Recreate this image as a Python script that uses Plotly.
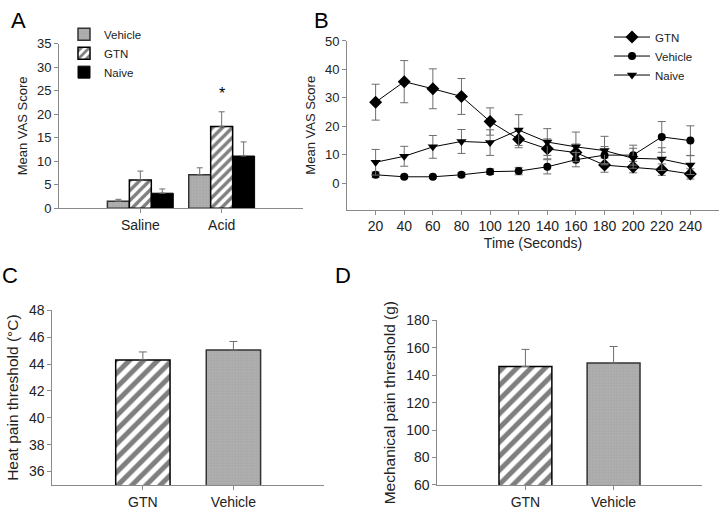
import plotly.graph_objects as go

# ---------------- Data ----------------
# Panel A
a_groups = ["Saline", "Acid"]
a_vehicle = [1.5, 7.1]
a_vehicle_err = [0.4, 1.5]
a_gtn = [6.0, 17.4]
a_gtn_err = [1.9, 3.1]
a_naive = [3.2, 11.1]
a_naive_err = [0.9, 3.0]

# Panel B
b_time = [20, 40, 60, 80, 100, 120, 140, 160, 180, 200, 220, 240]
b_gtn = [28.5, 35.7, 33.2, 30.5, 21.7, 15.5, 12.1, 10.8, 6.4, 5.7, 4.8, 3.3]
b_gtn_err = [6.3, 7.4, 7.0, 6.3, 4.8, 3.0, 3.5, 3.0, 2.5, 2.0, 2.0, 1.8]
b_vehicle = [3.0, 2.3, 2.3, 3.0, 4.1, 4.3, 5.8, 8.3, 9.9, 9.9, 16.3, 15.0]
b_vehicle_err = [1.0, 0.5, 0.5, 0.7, 1.0, 1.3, 2.5, 2.5, 3.0, 3.5, 5.4, 5.2]
b_naive = [7.4, 9.5, 12.8, 14.7, 14.3, 18.7, 14.5, 12.8, 11.5, 8.8, 8.5, 6.4]
b_naive_err = [4.5, 3.5, 4.0, 4.2, 4.5, 5.4, 4.7, 5.2, 5.0, 3.5, 4.0, 3.3]

# Panel C
c_groups = ["GTN", "Vehicle"]
c_values = [44.3, 45.05]
c_err = [0.6, 0.63]

# Panel D
d_groups = ["GTN", "Vehicle"]
d_values = [146.3, 148.9]
d_err = [12.5, 12.0]

# ---------------- Styles ----------------
FONT = "Liberation Sans, Arial, Helvetica, sans-serif"
AXCOL = "#8a8a8a"
ERRCOL = "#6e6e6e"
GRAY = "#a9a9a9"
TXT = "#222"

W, H = 720, 514


def dx(p):
    return p / W


def dy(p):
    return 1 - p / H


def gtn_marker(size, sol):
    return dict(color="white", line=dict(color="black", width=1.5),
                pattern=dict(shape="/", fgcolor="black", bgcolor="white",
                             size=size, solidity=sol))


def veh_marker():
    return dict(color=GRAY, line=dict(color="#333333", width=1.5),
                pattern=dict(shape="+", fgcolor="#c4c4c4", bgcolor=GRAY,
                             size=3, solidity=0.25))


def up_err(arr, width=3):
    return dict(type="data", array=arr, arrayminus=[0] * len(arr),
                symmetric=False, color=ERRCOL, thickness=1, width=width)


fig = go.Figure()

# ----- Panel A -----
xa = [1, 2]
bw = 0.27
fig.add_trace(go.Bar(x=[v - bw for v in xa], y=a_vehicle, width=bw, name="Vehicle",
                     marker=veh_marker(), error_y=up_err(a_vehicle_err),
                     xaxis="x", yaxis="y", legend="legend"))
fig.add_trace(go.Bar(x=xa, y=a_gtn, width=bw, name="GTN",
                     marker=gtn_marker(7, 0.48), error_y=up_err(a_gtn_err),
                     xaxis="x", yaxis="y", legend="legend"))
fig.add_trace(go.Bar(x=[v + bw for v in xa], y=a_naive, width=bw, name="Naive",
                     marker=dict(color="black", line=dict(color="black", width=1)),
                     error_y=up_err(a_naive_err),
                     xaxis="x", yaxis="y", legend="legend"))


# ----- Panel B -----
def line_trace(y, err, name, symbol, size):
    return go.Scatter(x=b_time, y=y, name=name, mode="lines+markers",
                      line=dict(color="black", width=1),
                      marker=dict(symbol=symbol, size=size, color="black"),
                      error_y=dict(type="data", array=err, color=ERRCOL,
                                   thickness=1, width=4),
                      xaxis="x2", yaxis="y2", legend="legend2")


fig.add_trace(line_trace(b_gtn, b_gtn_err, "GTN", "diamond", 10))
fig.add_trace(line_trace(b_vehicle, b_vehicle_err, "Vehicle", "circle", 8))
fig.add_trace(line_trace(b_naive, b_naive_err, "Naive", "triangle-down", 9))

# ----- Panel C -----
fig.add_trace(go.Bar(x=[1], y=[c_values[0]], width=0.6, marker=gtn_marker(10, 0.5),
                     error_y=up_err([c_err[0]], 4), showlegend=False,
                     xaxis="x3", yaxis="y3"))
fig.add_trace(go.Bar(x=[2], y=[c_values[1]], width=0.6, marker=veh_marker(),
                     error_y=up_err([c_err[1]], 4), showlegend=False,
                     xaxis="x3", yaxis="y3"))

# ----- Panel D -----
fig.add_trace(go.Bar(x=[1], y=[d_values[0]], width=0.6, marker=gtn_marker(10, 0.5),
                     error_y=up_err([d_err[0]], 4), showlegend=False,
                     xaxis="x4", yaxis="y4"))
fig.add_trace(go.Bar(x=[2], y=[d_values[1]], width=0.6, marker=veh_marker(),
                     error_y=up_err([d_err[1]], 4), showlegend=False,
                     xaxis="x4", yaxis="y4"))

common_x = dict(showline=True, linecolor=AXCOL, linewidth=1, ticks="outside",
                tickcolor=AXCOL, ticklen=4, showgrid=False, zeroline=False)
common_y = dict(showline=True, linecolor=AXCOL, linewidth=1, ticks="outside",
                tickcolor=AXCOL, ticklen=4, showgrid=False, zeroline=False)

f13 = dict(family=FONT, size=13, color=TXT)
f14 = dict(family=FONT, size=14, color=TXT)
f15 = dict(family=FONT, size=15.5, color=TXT)

fig.update_layout(
    width=W, height=H, margin=dict(l=0, r=0, t=0, b=0),
    paper_bgcolor="white", plot_bgcolor="white",
    font=dict(family=FONT, color=TXT),
    barmode="overlay",
    xaxis=dict(common_x, domain=[dx(59), dx(303)], range=[0, 3],
               tickvals=xa, ticktext=a_groups, anchor="y", tickfont=f14),
    yaxis=dict(common_y, domain=[dy(206.7), dy(36.7)], range=[0, 35],
               dtick=5, anchor="x", tickfont=f13,
               title=dict(text="Mean VAS Score", standoff=6, font=f13)),
    xaxis2=dict(common_x, domain=[dx(347), dx(719)], range=[0, 260],
                tickvals=b_time, anchor="y2", tickfont=f14,
                title=dict(text="Time (Seconds)", font=f14, standoff=4)),
    yaxis2=dict(common_y, domain=[dy(208), dy(34)], range=[-9.2, 50],
                tickvals=[0, 10, 20, 30, 40, 50], anchor="x2", tickfont=f13,
                title=dict(text="Mean VAS Score", standoff=6, font=f13)),
    xaxis3=dict(common_x, domain=[dx(52.3), dx(324)], range=[0, 3],
                tickvals=[1, 2], ticktext=c_groups, anchor="y3", tickfont=f14),
    yaxis3=dict(common_y, domain=[dy(492.3), dy(312)], range=[35, 48],
                tickvals=[36, 38, 40, 42, 44, 46, 48], anchor="x3", tickfont=f14,
                title=dict(text="Heat pain threshold (°C)", standoff=6, font=f15)),
    xaxis4=dict(common_x, domain=[dx(437.3), dx(701.7)], range=[0, 3],
                tickvals=[1, 2], ticktext=d_groups, anchor="y4", tickfont=f14),
    yaxis4=dict(common_y, domain=[dy(492.3), dy(322.3)], range=[60, 180],
                dtick=20, anchor="x4", tickfont=f14,
                title=dict(text="Mechanical pain threshold (g)", standoff=6, font=f15)),
    legend=dict(x=dx(64), y=dy(12), xanchor="left", yanchor="top",
                bgcolor="rgba(0,0,0,0)", font=dict(family=FONT, size=11.5, color=TXT),
                tracegroupgap=0, itemwidth=30, traceorder="normal"),
    legend2=dict(x=dx(609), y=dy(15), xanchor="left", yanchor="top",
                 bgcolor="rgba(0,0,0,0)", font=dict(family=FONT, size=11.5, color=TXT),
                 tracegroupgap=0, itemwidth=36, traceorder="normal"),
)

labels = [("A", 18, 13), ("B", 321, 13), ("C", 10, 276), ("D", 343, 276)]
for t, x, y in labels:
    fig.add_annotation(text=t, x=dx(x), y=dy(y), xref="paper", yref="paper",
                       xanchor="center", yanchor="middle", showarrow=False,
                       font=dict(family=FONT, size=22, color="black"))

# significance star over Acid GTN
fig.add_annotation(text="*", x=2, y=a_gtn[1] + a_gtn_err[1], xref="x", yref="y",
                   yshift=18, showarrow=False, font=dict(family=FONT, size=16, color="black"))

fig.write_html("out.html", config={"displayModeBar": False},
               post_script="document.body.style.margin='0';")
